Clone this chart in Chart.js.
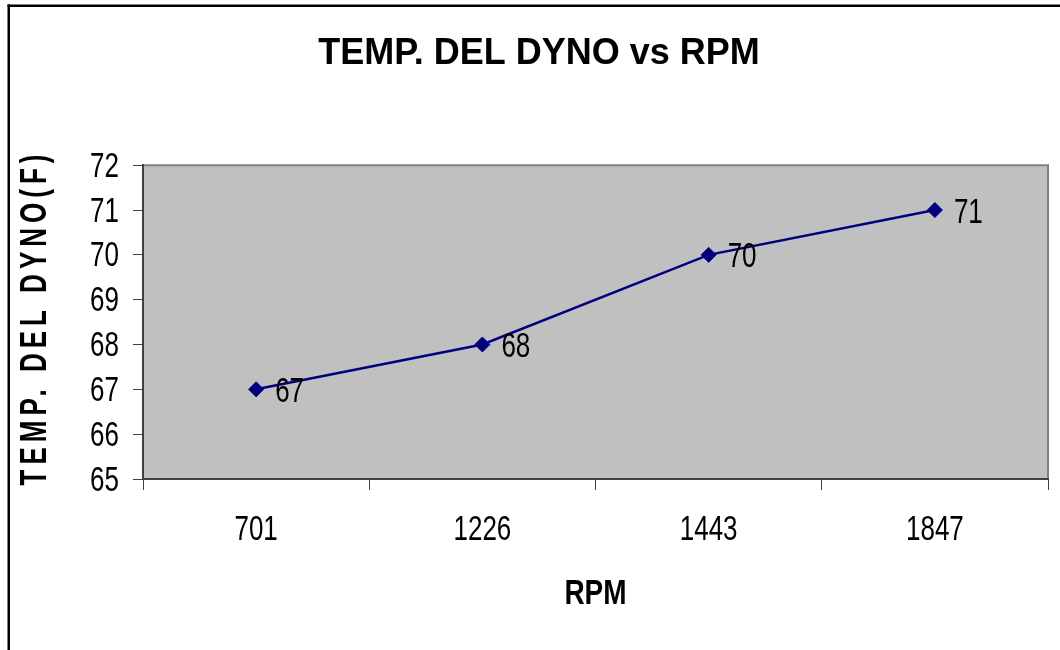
<!DOCTYPE html>
<html>
<head>
<meta charset="utf-8">
<title>TEMP. DEL DYNO vs RPM</title>
<script src="https://cdn.jsdelivr.net/npm/chart.js@4/dist/chart.umd.min.js"></script>
<style>
  html, body { margin: 0; padding: 0; background: #ffffff; }
  canvas { display: block; }
</style>
</head>
<body>
<canvas id="chart" width="1060" height="650"></canvas>
<script>
// Chart text
const chartTitle = 'TEMP. DEL DYNO vs RPM';
const xAxisTitle = 'RPM';
const yAxisTitle = 'TEMP. DEL DYNO(F)';

// Data: dyno temperature (°F) at each engine speed
const rpmLabels = ['701', '1226', '1443', '1847'];
const dynoTemp = [67, 68, 70, 71];

// Value axis range
const yMin = 65;
const yMax = 72;
const yStep = 1;

const sansFamily = '"Liberation Sans", Arial, sans-serif';
const labelSize = 26;      // tick and value labels
const labelStretch = 1.35; // tall, condensed look of the labels

// Draws text stretched vertically about its own centre line
function drawTallText(ctx, text, x, yCenter, align, size, weight, stretch) {
  ctx.save();
  ctx.translate(x, yCenter);
  ctx.scale(1, stretch);
  ctx.font = (weight ? weight + ' ' : '') + size + 'px ' + sansFamily;
  ctx.fillStyle = '#000000';
  ctx.textAlign = align;
  ctx.textBaseline = 'alphabetic';
  ctx.fillText(text, 0, 0.358 * size);
  ctx.restore();
}

// Page frame, plot background and plot border
const framePlugin = {
  id: 'frame',
  beforeDraw(chart) {
    const { ctx, chartArea: a } = chart;
    ctx.save();
    ctx.fillStyle = '#ffffff';
    ctx.fillRect(0, 0, chart.width, chart.height);
    ctx.fillStyle = '#000000';
    ctx.fillRect(7.5, 4.5, chart.width, 2.5);
    ctx.fillRect(7.5, 4.5, 2.5, chart.height);
    ctx.fillStyle = '#c0c0c0';
    ctx.fillRect(a.left, a.top, a.right - a.left, a.bottom - a.top);
    ctx.strokeStyle = '#808080';
    ctx.lineWidth = 2;
    ctx.beginPath();
    ctx.moveTo(a.left, a.top);
    ctx.lineTo(a.right, a.top);
    ctx.lineTo(a.right, a.bottom);
    ctx.stroke();
    ctx.restore();
  }
};

// Axis tick labels, axis titles
const axisTextPlugin = {
  id: 'axisText',
  afterDraw(chart) {
    const { ctx, chartArea: a } = chart;
    const xs = chart.scales.x;
    const ys = chart.scales.y;

    ys.ticks.forEach((t) => {
      drawTallText(ctx, String(t.value), 119, ys.getPixelForValue(t.value) - 1,
        'right', labelSize, '', labelStretch);
    });
    rpmLabels.forEach((lab, i) => {
      drawTallText(ctx, lab, xs.getPixelForValue(i), 527.5,
        'center', labelSize, '', labelStretch);
    });

    drawTallText(ctx, xAxisTitle, (a.left + a.right) / 2, 591, 'center', 28, 'bold', 1.25);

    // rotated, letter-spaced value axis title
    ctx.save();
    ctx.translate(36, 320);
    ctx.rotate(-Math.PI / 2);
    ctx.scale(1, 1.4);
    ctx.font = 'bold 26px ' + sansFamily;
    if ('letterSpacing' in ctx) ctx.letterSpacing = '5px';
    ctx.fillStyle = '#000000';
    ctx.textAlign = 'center';
    ctx.textBaseline = 'middle';
    ctx.fillText(yAxisTitle, 2.5, 0);
    ctx.restore();
  }
};

// Value labels beside each point
const valueLabelPlugin = {
  id: 'valueLabels',
  afterDatasetsDraw(chart) {
    const meta = chart.getDatasetMeta(0);
    meta.data.forEach((pt, i) => {
      drawTallText(chart.ctx, String(dynoTemp[i]), pt.x + 19, pt.y,
        'left', labelSize, '', labelStretch);
    });
  }
};

new Chart(document.getElementById('chart'), {
  type: 'line',
  data: {
    labels: rpmLabels,
    datasets: [{
      data: dynoTemp,
      borderColor: '#000080',
      borderWidth: 2.5,
      backgroundColor: '#000080',
      pointStyle: 'rectRot',
      pointRadius: 7.5,
      pointBorderWidth: 1,
      pointBackgroundColor: '#000080',
      pointBorderColor: '#000080',
      tension: 0,
      fill: false
    }]
  },
  options: {
    responsive: false,
    animation: false,
    devicePixelRatio: 1,
    layout: { padding: { left: 30, right: 12, top: 0, bottom: 0 } },
    plugins: {
      legend: { display: false },
      tooltip: { enabled: false },
      title: {
        display: true,
        text: chartTitle,
        color: '#000000',
        font: { family: sansFamily, size: 36, weight: 'bold', lineHeight: 1.2 },
        padding: { top: 32, bottom: 90 }
      }
    },
    scales: {
      x: {
        type: 'category',
        offset: true,
        grid: {
          offset: true,
          drawOnChartArea: false,
          drawTicks: true,
          tickLength: 11,
          color: '#404040',
          lineWidth: 1
        },
        border: { display: true, color: '#404040', width: 2 },
        ticks: { display: false },
        afterFit(scale) { scale.height = 171; }
      },
      y: {
        min: yMin,
        max: yMax,
        grid: {
          drawOnChartArea: false,
          drawTicks: true,
          tickLength: 10,
          color: '#404040',
          lineWidth: 1
        },
        border: { display: true, color: '#404040', width: 2 },
        ticks: { display: false, stepSize: yStep },
        afterFit(scale) { scale.width = 113; }
      }
    }
  },
  plugins: [framePlugin, axisTextPlugin, valueLabelPlugin]
});
</script>
</body>
</html>
